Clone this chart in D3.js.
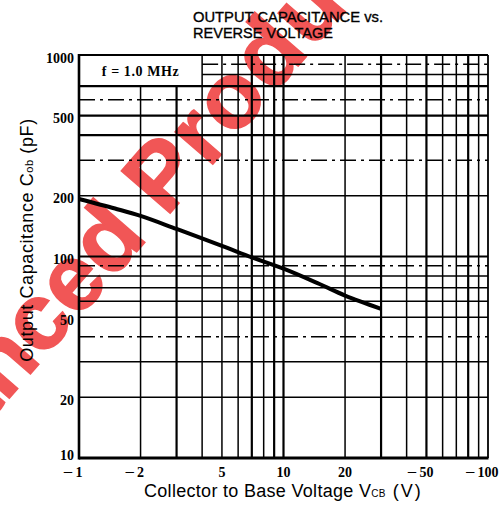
<!DOCTYPE html>
<html><head><meta charset="utf-8">
<script src="https://cdn.jsdelivr.net/npm/d3@7"></script>
<style>
html,body{margin:0;padding:0;background:#fff;}
svg{display:block;}
</style></head>
<body>
<script>
// ---- data ----
const titleLines = ["OUTPUT CAPACITANCE vs.", "REVERSE VOLTAGE"];
const voltage = [1, 1.5, 2, 3, 5, 7, 10, 15, 20, 30];              // |V_CB| (V)
const capacitance = [193, 173, 159, 137, 113, 99, 87, 73, 64, 55]; // C_ob (pF)
const xTickValues = [1, 2, 5, 10, 20, 50, 100];
const xTickLabels = ["−1", "−2", "5", "10", "20", "−50", "−100"];
const yTickValues = [10, 20, 50, 100, 200, 500, 1000];
const yTickLabels = ["10", "20", "50", "100", "200", "500", "1000"];
const conditionLabel = "f = 1.0 MHz";
const watermarkWords = ["Advanced", "Products"];

// ---- layout ----
const W = 501, H = 521;
const L = 79, R = 488, T = 55, B = 458;

const svg = d3.select("body").append("svg").attr("width", W).attr("height", H);

const x = d3.scaleLog().domain([1, 100]).range([L, R]);
const y = d3.scaleLog().domain([10, 1000]).range([B, T]);

// watermark (under everything)
const wmSize = 94;
const wm = svg.append("g").attr("transform", "translate(166,218) rotate(-49)")
  .attr("fill", "#f15656").attr("stroke", "#f15656").attr("stroke-width", 1.5)
  .attr("font-family", "Liberation Sans, Arial, sans-serif")
  .attr("font-weight", "bold").attr("font-size", wmSize);
wm.append("text").attr("x", -0.278 * wmSize).attr("text-anchor", "end").text(watermarkWords[0]);
wm.append("text").attr("x", 0).attr("text-anchor", "start").attr("letter-spacing", 2).text(watermarkWords[1]);

// grid
const dashedY = new Set([900, 600, 300, 90, 40]);
const boldX = new Set([3, 7, 9, 10, 30, 50, 80]);
const boldY = new Set([100, 500, 400, 700]);
const grid = svg.append("g").attr("stroke", "#000").attr("fill", "none");
const xt = x.ticks();
const yt = y.ticks();
// box region for the condition label: x in [1,4], y in [700,1000]
grid.selectAll("line.v").data(xt.filter(d => d > 1 && d < 100)).join("line")
  .attr("x1", d => x(d)).attr("x2", d => x(d))
  .attr("y1", d => d < 4 ? y(700) : T).attr("y2", B)
  .attr("stroke-width", d => boldX.has(d) ? 2.2 : 1.5);
grid.selectAll("line.h").data(yt.filter(d => d > 10 && d < 1000)).join("line")
  .attr("y1", d => y(d)).attr("y2", d => y(d))
  .attr("x1", d => d > 700 ? x(4) : L).attr("x2", R)
  .attr("stroke-width", d => boldY.has(d) ? 2.2 : 1.5)
  .attr("stroke-dasharray", d => dashedY.has(d) ? "16,5,3,5" : null);

// frame
const fr = svg.append("g").attr("stroke", "#000");
fr.append("line").attr("x1", L).attr("x2", R).attr("y1", T).attr("y2", T).attr("stroke-width", 1.8);
fr.append("line").attr("x1", L).attr("x2", R + 0.5).attr("y1", B).attr("y2", B).attr("stroke-width", 3);
fr.append("line").attr("x1", L).attr("x2", L).attr("y1", T - 1).attr("y2", B + 1.5).attr("stroke-width", 2.6);
fr.append("line").attr("x1", R).attr("x2", R).attr("y1", T).attr("y2", B).attr("stroke-width", 1.8);

// condition label
svg.append("text").attr("x", (x(1) + x(4)) / 2).attr("y", (y(1000) + y(700)) / 2 + 5)
  .attr("text-anchor", "middle").attr("font-family", "Liberation Serif, Times New Roman, serif")
  .attr("font-weight", "bold").attr("font-size", 14).attr("letter-spacing", 0.6)
  .text(conditionLabel);

// curve
const line = d3.line().x(d => x(d[0])).y(d => y(d[1])).curve(d3.curveCatmullRom.alpha(0.5));
svg.append("path").datum(voltage.map((v, i) => [v, capacitance[i]]))
  .attr("d", line).attr("fill", "none").attr("stroke", "#000")
  .attr("stroke-width", 4).attr("stroke-linecap", "butt");

// y tick labels
svg.append("g").selectAll("text").data(yTickValues).join("text")
  .attr("x", L - 5).attr("y", d => Math.min(y(d) + 3, B - 3))
  .attr("dominant-baseline", "central").attr("text-anchor", "end")
  .attr("font-family", "Liberation Serif, Times New Roman, serif").attr("font-weight", "bold")
  .attr("font-size", 14).text((d, i) => yTickLabels[i]);

// x tick labels: digits centred on the tick, minus sign to the left
const xl = svg.append("g").attr("font-family", "Liberation Serif, Times New Roman, serif")
  .attr("font-weight", "bold").attr("font-size", 14);
xTickValues.forEach((v, i) => {
  const lab = xTickLabels[i];
  const neg = lab.startsWith("−");
  const digits = neg ? lab.slice(1) : lab;
  const t = xl.append("text").attr("x", x(v)).attr("y", 477).attr("text-anchor", "middle").text(digits);
  if (neg) {
    const w = t.node().getComputedTextLength();
    const mx = x(v) - w / 2 - 2;
    xl.append("text").attr("x", mx).attr("y", 477).attr("text-anchor", "end")
      .attr("transform", `translate(${mx},477) scale(1.3,1) translate(${-mx},-477)`)
      .text("−");
  }
});

// title
svg.append("g").attr("font-family", "Liberation Sans, Arial, sans-serif").attr("font-size", 15)
  .attr("stroke", "#000").attr("stroke-width", 0.35)
  .selectAll("text").data(titleLines).join("text")
  .attr("x", 193).attr("y", (d, i) => 22 + i * 16)
  .attr("textLength", (d, i) => i === 0 ? 190 : 140).attr("lengthAdjust", "spacingAndGlyphs")
  .text(d => d);

// axis titles
const xtitle = svg.append("text").attr("x", 144).attr("y", 497)
  .attr("font-family", "Liberation Sans, Arial, sans-serif").attr("font-size", 18)
  .attr("letter-spacing", 0.3);
xtitle.append("tspan").text("Collector to Base Voltage  V");
xtitle.append("tspan").attr("font-size", 10).text("CB");
xtitle.append("tspan").attr("letter-spacing", 2).text(" (V)");

const ytitle = svg.append("text").attr("transform", "translate(33,240) rotate(-90)")
  .attr("text-anchor", "middle")
  .attr("font-family", "Liberation Sans, Arial, sans-serif").attr("font-size", 18)
  .attr("letter-spacing", 0.6);
ytitle.append("tspan").text("Output Capacitance  C");
ytitle.append("tspan").attr("font-size", 11).text("ob");
ytitle.append("tspan").text(" (pF)");
</script>
</body></html>
